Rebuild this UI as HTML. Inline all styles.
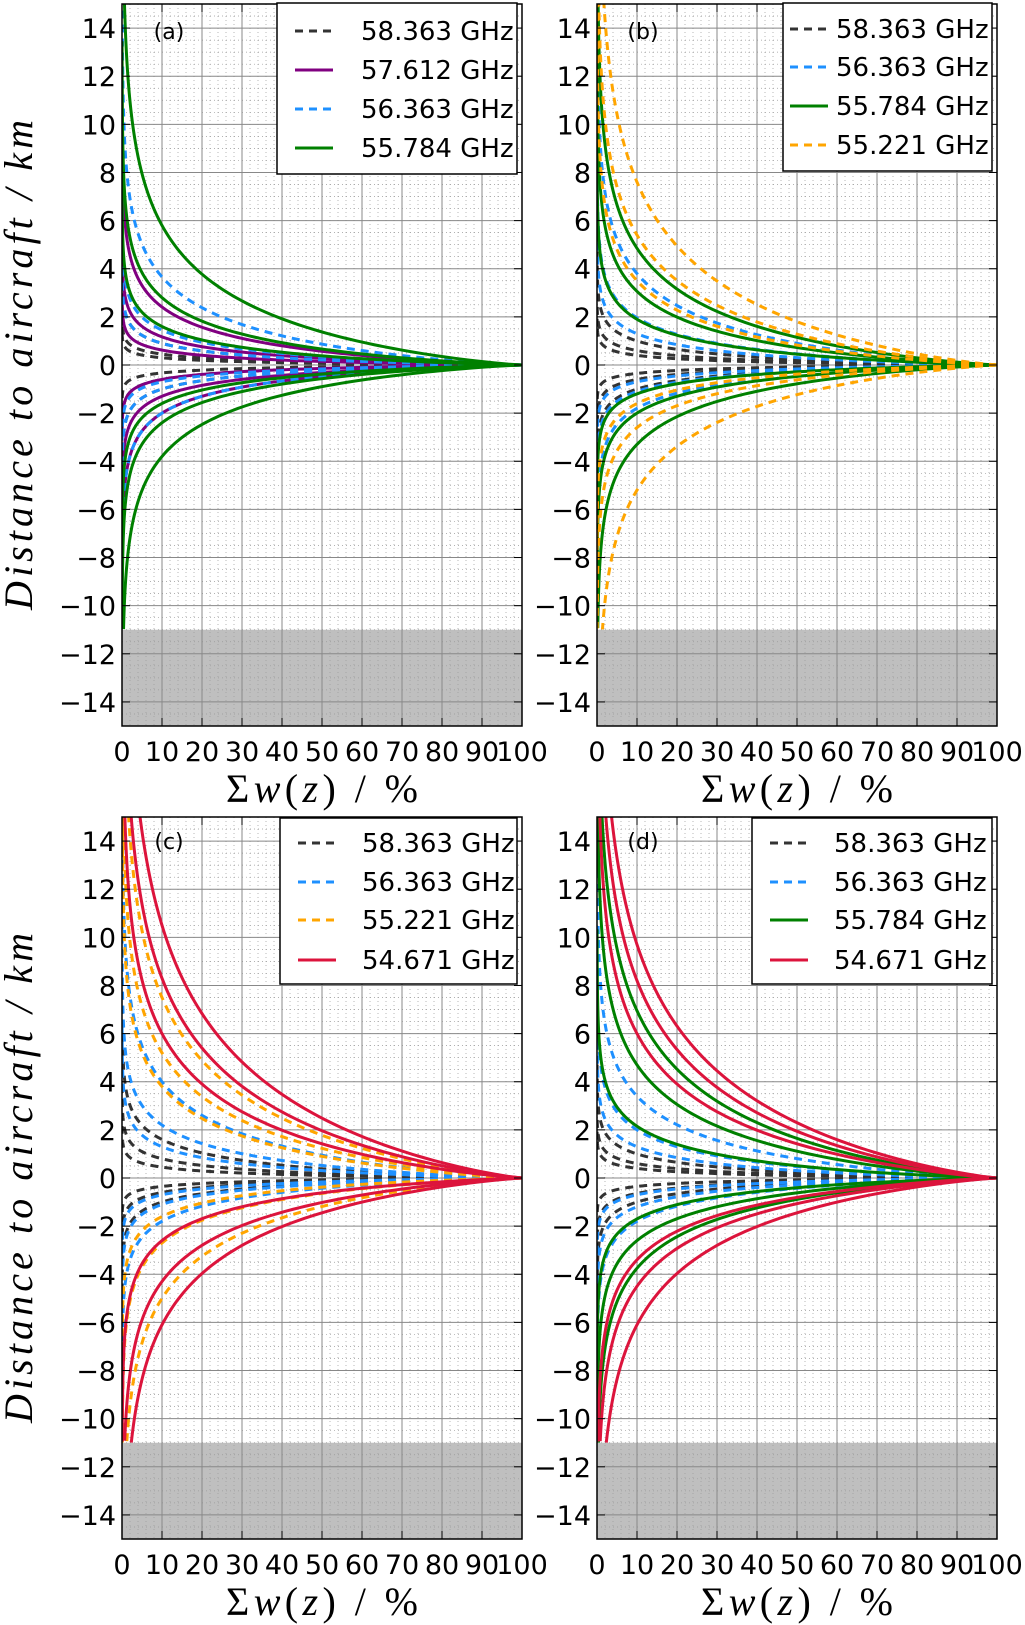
<!DOCTYPE html>
<html><head><meta charset="utf-8"><style>
html,body{margin:0;padding:0;background:#fff;}
svg{display:block;}
</style></head><body>
<svg id="fig" xmlns="http://www.w3.org/2000/svg" width="1025" height="1625" viewBox="0 0 1025 1625"></svg>
<script>
// ---- data: depth (km) of each curve at 10% cumulative weight ----
const xTicks = [0,10,20,30,40,50,60,70,80,90,100];
const yTicks = [14,12,10,8,6,4,2,0,-2,-4,-6,-8,-10,-12,-14];
const groundLevel = -11;
const panelLabels = ["(a)","(b)","(c)","(d)"];

const aNames = ["58.363 GHz","57.612 GHz","56.363 GHz","55.784 GHz"];
const aPos = [[0.9,0.45,0.3],[2.41,1.17,0.62],[3.66,1.45,0.9],[5.8,2.8,1.6]];
const aNeg = [[1.0,0.6,0.33],[2.0,1.3,0.6],[2.0,1.0,0.7],[3.8,2.4,1.6]];

const bNames = ["58.363 GHz","56.363 GHz","55.784 GHz","55.221 GHz"];
const bPos = [[1.0,0.6,0.4],[3.8,1.96,1.3],[4.85,3.06,1.9],[7.6,5.4,3.5]];
const bNeg = [[1.0,0.6,0.35],[1.8,1.1,0.7],[3.3,2.0,1.2],[5.2,2.6,1.6]];

const cNames = ["58.363 GHz","56.363 GHz","55.221 GHz","54.671 GHz"];
const cPos = [[1.6,0.8,0.45],[4.0,2.2,1.3],[7.5,5.2,3.8],[10.5,8.3,6.0]];
const cNeg = [[1.0,0.6,0.35],[1.8,1.1,0.7],[5.0,2.7,1.6],[6.1,4.3,2.6]];

const dNames = ["58.363 GHz","56.363 GHz","55.784 GHz","54.671 GHz"];
const dPos = [[1.0,0.6,0.4],[3.4,2.0,1.3],[6.95,4.7,2.15],[9.7,8.2,6.0]];
const dNeg = [[1.0,0.64,0.35],[1.8,1.2,0.7],[3.75,2.6,1.7],[6.1,4.5,3.4]];

const STY = {
  "58.363 GHz":{c:"#333333",d:"8,6"},
  "57.612 GHz":{c:"#800080",d:null},
  "56.363 GHz":{c:"#1e90ff",d:"8,6"},
  "55.784 GHz":{c:"#008000",d:null},
  "55.221 GHz":{c:"#ffa500",d:"8,6"},
  "54.671 GHz":{c:"#dc143c",d:null}
};

const NS="http://www.w3.org/2000/svg";
const fig=document.getElementById('fig');
function mk(tag,attrs,parent){const e=document.createElementNS(NS,tag);for(const k in attrs)e.setAttribute(k,attrs[k]);(parent||fig).appendChild(e);return e;}

const panels=[
 {L:122,R:522,T:4,B:726,names:aNames,pos:aPos,neg:aNeg,leg:{x:277,y:3,w:240,h:171,ls:295,tx:361,ry:[31,70,109,148]},lab:[169,31]},
 {L:597,R:997,T:4,B:726,names:bNames,pos:bPos,neg:bNeg,leg:{x:783,y:3,w:209,h:168,ls:790,tx:836,ry:[29,67,106,145]},lab:[643,31]},
 {L:122,R:522,T:817,B:1539,names:cNames,pos:cPos,neg:cNeg,leg:{x:280,y:818,w:237,h:166,ls:298,tx:362,ry:[843,882,920,960]},lab:[169,841]},
 {L:597,R:997,T:817,B:1539,names:dNames,pos:dPos,neg:dNeg,leg:{x:752,y:818,w:240,h:166,ls:770,tx:834,ry:[843,882,920,960]},lab:[643,841]}
];
const pnames=["panel-a","panel-b","panel-c","panel-d"];

function curveY(pct,h10){const u=-Math.log(pct/100);return h10*Math.pow(u/Math.log(10),1.2);}

panels.forEach((p,pi)=>{
  const g=mk('g',{});
  
  
  const sx=v=>p.L+(v/100)*(p.R-p.L);
  const sy=v=>p.T+(15-v)/30*(p.B-p.T);
  const clipId='clip'+pi;
  const cp=mk('clipPath',{id:clipId},g);
  mk('rect',{x:p.L,y:p.T,width:p.R-p.L,height:p.B-p.T},cp);
  const gr=mk('rect',{x:p.L,y:sy(groundLevel),width:p.R-p.L,height:sy(-15)-sy(groundLevel),fill:'#bfbfbf'},g);
  
  
  for(let v=2;v<100;v+=2){if(v%10)mk('line',{x1:sx(v),x2:sx(v),y1:p.T,y2:p.B,stroke:'#999',"stroke-width":0.7,"stroke-dasharray":"1,3"},g);}
  for(let v=-14.5;v<15;v+=0.5){if(Math.abs(v%2)>1e-6)mk('line',{x1:p.L,x2:p.R,y1:sy(v),y2:sy(v),stroke:'#999',"stroke-width":0.7,"stroke-dasharray":"1,3"},g);}
  xTicks.forEach(v=>mk('line',{x1:sx(v),x2:sx(v),y1:p.T,y2:p.B,stroke:'#888',"stroke-width":1},g));
  yTicks.forEach(v=>mk('line',{x1:p.L,x2:p.R,y1:sy(v),y2:sy(v),stroke:'#888',"stroke-width":1},g));
  const cg=mk('g',{"clip-path":`url(#${clipId})`},g);
  p.names.forEach((nm,si)=>{
    const st=STY[nm];
    [[p.pos[si],1],[p.neg[si],-1]].forEach(([arr,sgn])=>{
      arr.forEach(h=>{
        let d='';
        for(let i=240;i>=0;i--){
          const pct=0.02*Math.pow(100/0.02,i/240);
          let y=sgn*curveY(pct,h);
          if(sgn<0&&y<groundLevel)break;
          if(y>16)break;
          d+=(d?'L':'M')+sx(pct).toFixed(2)+','+sy(y).toFixed(2);
        }
        const path=mk('path',{d:d,fill:'none',stroke:st.c,"stroke-width":3},cg);
        if(st.d)path.setAttribute('stroke-dasharray',st.d);
        
        
      });
    });
  });
  mk('rect',{x:p.L,y:p.T,width:p.R-p.L,height:p.B-p.T,fill:'none',stroke:'#000',"stroke-width":1.5},g);
  xTicks.forEach(v=>{mk('line',{x1:sx(v),x2:sx(v),y1:p.B,y2:p.B-8,stroke:'#000'},g);mk('line',{x1:sx(v),x2:sx(v),y1:p.T,y2:p.T+8,stroke:'#000'},g);});
  yTicks.forEach(v=>{mk('line',{x1:p.L,x2:p.L+8,y1:sy(v),y2:sy(v),stroke:'#000'},g);mk('line',{x1:p.R,x2:p.R-8,y1:sy(v),y2:sy(v),stroke:'#000'},g);});
  xTicks.forEach(v=>{const t=mk('text',{x:sx(v),y:p.B+35,"text-anchor":"middle","font-family":"DejaVu Sans, Liberation Sans, sans-serif","font-size":27},g);t.textContent=v;});
  yTicks.forEach(v=>{const t=mk('text',{x:p.L-6,y:sy(v)+10,"text-anchor":"end","font-family":"DejaVu Sans, Liberation Sans, sans-serif","font-size":27},g);t.textContent=(v<0?'\u2212':'')+Math.abs(v);});
  const xt=mk('text',{x:(p.L+p.R)/2,y:p.B+76,"text-anchor":"middle","font-family":"Liberation Serif, DejaVu Serif, serif","font-size":40,textLength:192,lengthAdjust:"spacing"},g);
  xt.innerHTML='Σ<tspan font-style="italic">w</tspan>(<tspan font-style="italic">z</tspan>) / %';
  
  
  const pl=mk('text',{x:p.lab[0],y:p.lab[1]+8,"text-anchor":"middle","font-family":"DejaVu Sans, Liberation Sans, sans-serif","font-size":22},g);
  pl.textContent=panelLabels[pi];
  
  
  const lg=mk('g',{},g);
  
  
  mk('rect',{x:p.leg.x,y:p.leg.y,width:p.leg.w,height:p.leg.h,fill:'#fff',stroke:'#000',"stroke-width":1.5},lg);
  p.names.forEach((nm,si)=>{
    const st=STY[nm];const yy=p.leg.ry[si];
    const e=mk('g',{},lg);
    
    
    const ln=mk('line',{x1:p.leg.ls,x2:p.leg.ls+38,y1:yy,y2:yy,stroke:st.c,"stroke-width":3},e);
    if(st.d)ln.setAttribute('stroke-dasharray',st.d);
    const t=mk('text',{x:p.leg.tx,y:yy+9,"font-family":"DejaVu Sans, Liberation Sans, sans-serif","font-size":26},e);
    t.textContent=nm;
  });
  if(pi%2===0){
    const cy=(p.T+p.B)/2;
    const yt=mk('text',{x:0,y:0,transform:`translate(32,${cy}) rotate(-90)`,"text-anchor":"middle","font-family":"Liberation Serif, DejaVu Serif, serif","font-size":40,"font-style":"italic",textLength:490,lengthAdjust:"spacing"},g);
    yt.textContent='Distance to aircraft / km';
    
    
  }
});
</script>
</body></html>
